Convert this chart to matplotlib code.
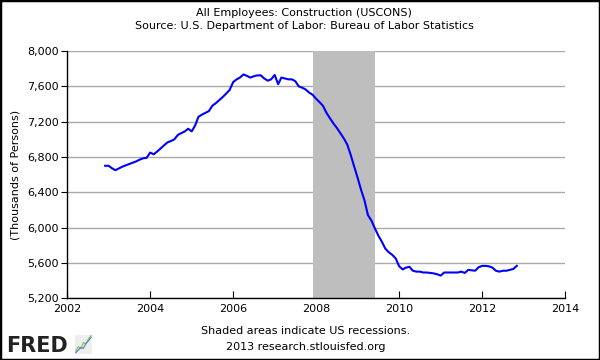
import numpy as np
import pandas as pd
import matplotlib.pyplot as plt
import matplotlib.dates as mdates
from matplotlib.ticker import FuncFormatter
from matplotlib.patches import Rectangle

# monthly values, thousands of persons, Dec 2002 .. Nov 2012
v2002 = [6700]
v2003 = [6700, 6670, 6650, 6670, 6690, 6705, 6720, 6735, 6750, 6770, 6785, 6790]
v2004 = [6850, 6830, 6860, 6895, 6930, 6965, 6980, 7000, 7050, 7070, 7090, 7120]
v2005 = [7090, 7160, 7255, 7280, 7300, 7320, 7380, 7410, 7445, 7480, 7520, 7560]
v2006 = [7650, 7680, 7700, 7735, 7720, 7700, 7715, 7725, 7725, 7690, 7665, 7680]
v2007 = [7730, 7625, 7700, 7690, 7680, 7680, 7660, 7600, 7585, 7565, 7530, 7505]
v2008 = [7460, 7420, 7380, 7300, 7240, 7180, 7130, 7070, 7010, 6940, 6820, 6690]
v2009 = [6560, 6420, 6310, 6140, 6080, 5990, 5910, 5840, 5760, 5720, 5690, 5650]
v2010 = [5560, 5525, 5545, 5555, 5510, 5500, 5500, 5490, 5490, 5485, 5480, 5470]
v2011 = [5455, 5490, 5490, 5490, 5490, 5490, 5500, 5485, 5520, 5515, 5510, 5550]
v2012 = [5565, 5565, 5560, 5545, 5510, 5500, 5510, 5510, 5520, 5530, 5565]

values = v2002 + v2003 + v2004 + v2005 + v2006 + v2007 + v2008 + v2009 + v2010 + v2011 + v2012
dates = pd.date_range("2002-12-01", periods=len(values), freq="MS")

rec_start = pd.Timestamp("2007-12-01")
rec_end = pd.Timestamp("2009-06-01")

title = "All Employees: Construction (USCONS)"
subtitle = "Source: U.S. Department of Labor: Bureau of Labor Statistics"
ylabel = "(Thousands of Persons)"
note1 = "Shaded areas indicate US recessions."
note2 = "2013 research.stlouisfed.org"

# little logo icon lines
icon_x = [0, 1, 2, 3, 4, 5, 6]
icon_g = [1.0, 2.0, 1.6, 3.0, 2.6, 3.8, 4.6]
icon_b = [0.6, 1.2, 1.8, 1.6, 2.8, 3.4, 4.2]

plt.rcParams["font.family"] = "DejaVu Sans"

fig = plt.figure(figsize=(6, 3.6), dpi=100)
fig.patches.append(Rectangle((0, 0), 1, 1, transform=fig.transFigure,
                             fill=False, edgecolor="black", lw=2.5))

ax = fig.add_axes([0.112, 0.172, 0.830, 0.686])
ax.axvspan(rec_start, rec_end, color="#bebebe", lw=0, zorder=1)
ax.plot(dates, values, color="#0000ff", lw=1.5, zorder=3)

ax.set_xlim(pd.Timestamp("2002-01-01"), pd.Timestamp("2014-01-01"))
ax.set_ylim(5200, 8000)
ax.set_yticks(np.arange(5200, 8001, 400))
ax.yaxis.set_major_formatter(FuncFormatter(lambda v, p: f"{v:,.0f}"))
ax.xaxis.set_major_locator(mdates.YearLocator(2))
ax.xaxis.set_major_formatter(mdates.DateFormatter("%Y"))

ax.grid(axis="y", color="#aaaaaa", lw=1.0, zorder=0)
ax.set_axisbelow(True)
for s in ["top", "right"]:
    ax.spines[s].set_visible(False)
ax.spines["left"].set_linewidth(1.0)
ax.spines["bottom"].set_linewidth(1.0)
ax.tick_params(axis="y", direction="out", length=4, labelsize=8, pad=2)
ax.tick_params(axis="x", direction="in", length=5, labelsize=8, pad=4)

ax.set_ylabel(ylabel, fontsize=8, labelpad=5)

fig.text(0.507, 0.965, title, ha="center", va="center", fontsize=8)
fig.text(0.507, 0.927, subtitle, ha="center", va="center", fontsize=8)
fig.text(0.51, 0.080, note1, ha="center", va="center", fontsize=8)
fig.text(0.51, 0.036, note2, ha="center", va="center", fontsize=8)

fig.text(0.010, 0.040, "FRED", ha="left", va="center", fontsize=15,
         fontweight="heavy", color="#222222")
iax = fig.add_axes([0.125, 0.018, 0.028, 0.052])
iax.set_facecolor("#eeeeee")
iax.plot(icon_x, icon_g, color="#7cbf4a", lw=0.8)
iax.plot(icon_x, icon_b, color="#4a7cc4", lw=0.8)
iax.set_xticks([])
iax.set_yticks([])
for s in iax.spines.values():
    s.set_visible(False)

fig.savefig("out.png", dpi=100)
